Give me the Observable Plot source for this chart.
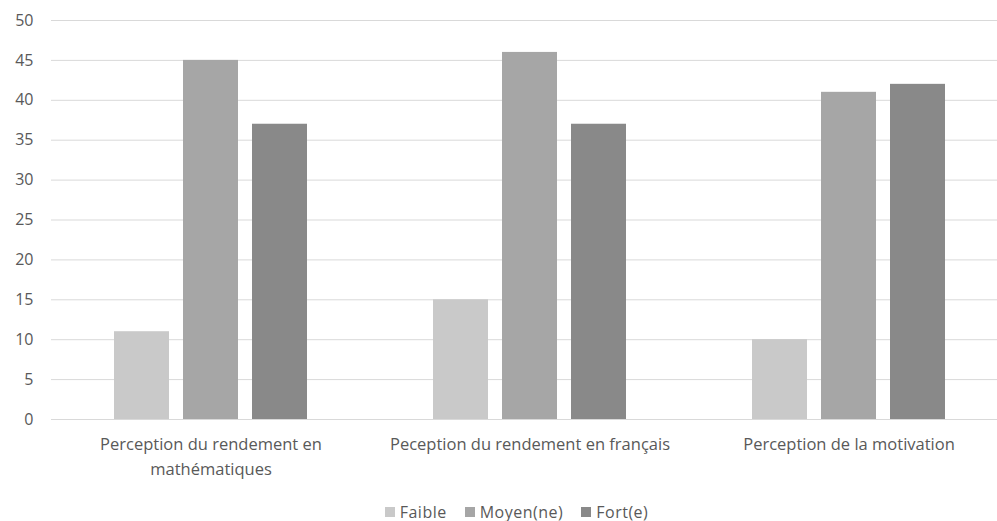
<!DOCTYPE html>
<html>
<head>
<meta charset="utf-8">
<script src="https://cdn.jsdelivr.net/npm/d3@7"></script>
<script src="https://cdn.jsdelivr.net/npm/@observablehq/plot@0.6"></script>
<style>
  html, body { margin: 0; padding: 0; background: #fff; overflow: hidden; }
  #wrap { position: relative; width: 997px; height: 521px; }
  #legend { position: absolute; left: 0; top: 502px; width: 997px; height: 19px;
    display: flex; justify-content: center; align-items: center; padding-left: 36px; box-sizing: border-box;
    font-family: "Open Sans", sans-serif; font-size: 16px; letter-spacing: 0.5px; color: #595959; }
  .item { display: flex; align-items: center; margin: 0 9px; }
  .sw { width: 10px; height: 10px; margin-right: 5px; }
</style>
</head>
<body>
<div id="wrap"><div id="chart"></div><div id="legend"></div></div>
<script>
const categories = ["Perception du rendement en mathématiques", "Peception du rendement en français", "Perception de la motivation"];
const categoryLabels = ["Perception du rendement en\nmathématiques", "Peception du rendement en français", "Perception de la motivation"];
const series = ["Faible", "Moyen(ne)", "Fort(e)"];
const faible = [11, 15, 10];
const moyen = [45, 46, 41];
const fort = [37, 37, 42];
const seriesColors = ["#c9c9c9", "#a6a6a6", "#898989"];
const yTicks = [0, 5, 10, 15, 20, 25, 30, 35, 40, 45, 50];

const values = [faible, moyen, fort];
const data = [];
categories.forEach((c, i) => series.forEach((s, j) => data.push({category: c, series: s, value: values[j][i]})));
const labelOf = new Map(categories.map((c, i) => [c, categoryLabels[i]]));

const chart = Plot.plot({
  width: 997,
  height: 492,
  marginTop: 20,
  marginBottom: 73,
  marginLeft: 51,
  marginRight: 0,
  style: {background: "#fff", fontFamily: "'Open Sans', sans-serif", color: "#595959", overflow: "hidden"},
  fx: {domain: categories, range: [50, 1008.5], padding: 0, axis: null},
  x: {domain: series, paddingInner: 0.2, paddingOuter: 0.879, axis: null},
  y: {domain: [0, 50], axis: null},
  color: {domain: series, range: seriesColors},
  marks: [
    Plot.gridY(yTicks, {stroke: "#d9d9d9", strokeOpacity: 1, strokeWidth: 1}),
    Plot.axisY(yTicks, {label: null, tickSize: 0, tickPadding: 18, fontSize: 16, fill: "#595959", letterSpacing: 0.5}),
    Plot.barY(data, {fx: "category", x: "series", y: "value", fill: "series"}),
    Plot.text(categories, {fx: d => d, text: d => labelOf.get(d), frameAnchor: "bottom", lineAnchor: "top",
      dy: 12, lineHeight: 1.55, fontSize: 16.5, fill: "#595959", letterSpacing: 0.85})
  ]
});
document.getElementById("chart").appendChild(chart);

const legend = document.getElementById("legend");
series.forEach((s, i) => {
  const item = document.createElement("div");
  item.className = "item";
  const sw = document.createElement("span");
  sw.className = "sw";
  sw.style.background = seriesColors[i];
  const t = document.createElement("span");
  t.textContent = s;
  item.appendChild(sw); item.appendChild(t);
  legend.appendChild(item);
});
</script>
</body>
</html>
